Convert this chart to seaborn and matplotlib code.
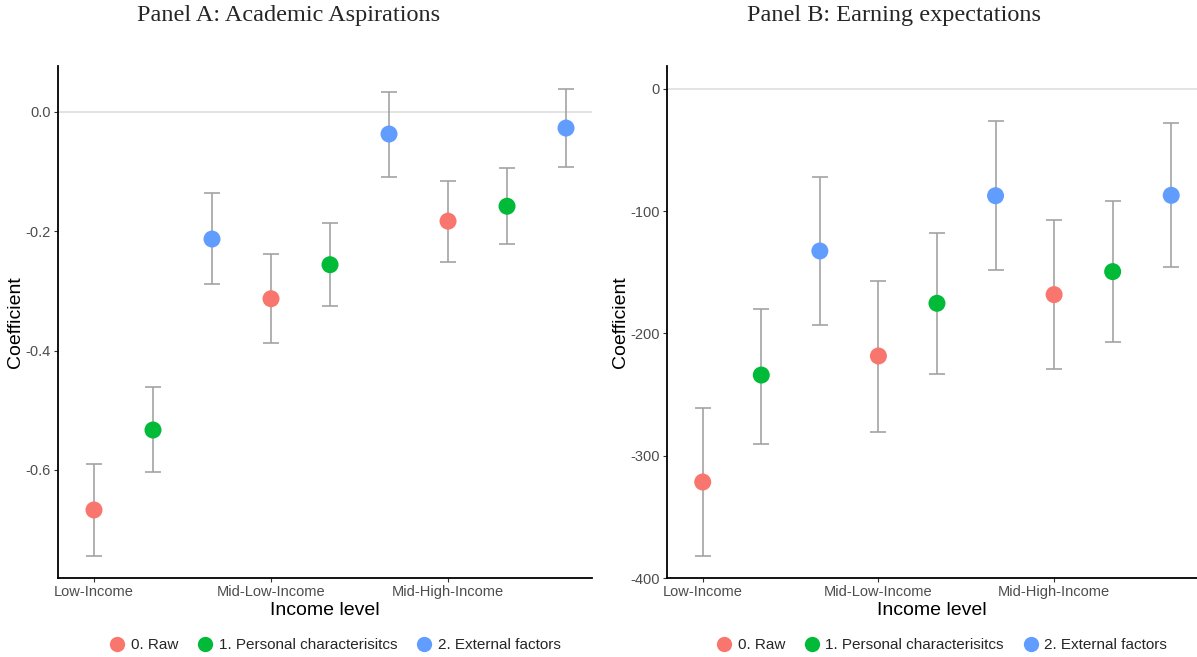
import numpy as np
import pandas as pd
import matplotlib
matplotlib.use("Agg")
import matplotlib.pyplot as plt
from matplotlib.lines import Line2D
import seaborn as sns

# Income groups and model specifications
categories = ["Low-Income", "Mid-Low-Income", "Mid-High-Income"]
models = ["0. Raw", "1. Personal characterisitcs", "2. External factors"]
palette = ["#F8766D", "#00BA38", "#619CFF"]

# Panel A: academic aspirations (ordered income group x model)
acad_coef = [-0.667, -0.533, -0.213, -0.313, -0.256, -0.037, -0.183, -0.158, -0.027]
acad_lo = [-0.744, -0.604, -0.288, -0.387, -0.325, -0.109, -0.251, -0.221, -0.092]
acad_hi = [-0.590, -0.461, -0.136, -0.238, -0.186, 0.034, -0.116, -0.094, 0.039]

# Panel B: earning expectations
earn_coef = [-321.5, -234.0, -132.5, -218.4, -175.3, -87.3, -168.2, -149.4, -87.0]
earn_lo = [-382.0, -290.0, -193.0, -280.6, -233.0, -148.0, -229.0, -207.0, -145.8]
earn_hi = [-261.0, -180.0, -72.0, -157.0, -117.5, -26.4, -107.4, -91.6, -27.8]

acad_ticks = [0.0, -0.2, -0.4, -0.6]
earn_ticks = [0, -100, -200, -300, -400]


def make_frame(coef, lo, hi):
    rows = []
    k = 0
    for g, cat in enumerate(categories):
        for m, mod in enumerate(models):
            rows.append(dict(income=cat, model=mod, pos=g * len(models) + m,
                             coef=coef[k], lo=lo[k], hi=hi[k]))
            k += 1
    return pd.DataFrame(rows)


sns.set_theme(style="white")
plt.rcParams["font.family"] = ["Liberation Sans", "DejaVu Sans"]
plt.rcParams["axes.unicode_minus"] = False

W, H = 1197, 657
fig = plt.figure(figsize=(W / 100, H / 100), dpi=100)


def px_axes(left, top, right, bottom):
    return fig.add_axes([left / W, 1 - bottom / H, (right - left) / W, (bottom - top) / H])


def draw_panel(ax, df, ylim, xlim, yticks, ylabels, title, title_x, legend_x):
    ax.axhline(0, color="#dedede", lw=1.2, zorder=0)
    ax.errorbar(df["pos"], df["coef"],
                yerr=[df["coef"] - df["lo"], df["hi"] - df["coef"]],
                fmt="none", ecolor="#a3a3a3", elinewidth=1.2,
                capsize=5.5, capthick=1.2, zorder=1)
    sns.scatterplot(data=df, x="pos", y="coef", hue="model", hue_order=models,
                    palette=palette, s=150, linewidth=0, ax=ax, zorder=3,
                    legend=False)
    ax.set_xlim(*xlim)
    ax.set_ylim(*ylim)
    ax.set_xticks([g * len(models) for g in range(len(categories))])
    ax.set_xticklabels(categories)
    ax.set_yticks(yticks)
    ax.set_yticklabels(ylabels)
    ax.tick_params(axis="both", which="both", direction="out", length=3,
                   width=0.8, color="#333333", labelsize=10.5,
                   labelcolor="#4d4d4d", pad=2, left=True, bottom=True)
    for side in ("top", "right"):
        ax.spines[side].set_visible(False)
    for side in ("left", "bottom"):
        ax.spines[side].set_color("black")
        ax.spines[side].set_linewidth(1.3)
    ax.set_xlabel("Income level", fontsize=14, color="black", labelpad=2)
    ax.set_ylabel("Coefficient", fontsize=14, color="black", labelpad=1)
    fig.text(title_x / W, 1 - 15 / H, title, ha="center", va="center",
             fontsize=17.5, family=["Liberation Serif", "DejaVu Serif"])
    handles = [Line2D([0], [0], marker="o", linestyle="none", markersize=11,
                      markerfacecolor=c, markeredgewidth=0) for c in palette]
    fig.legend(handles, models, loc="center", ncol=3, frameon=False,
               bbox_to_anchor=(legend_x / W, 1 - 645 / H), fontsize=11,
               handletextpad=0.3, columnspacing=1.15, handlelength=1.2)


axA = px_axes(58, 66, 592, 578)
draw_panel(axA, make_frame(acad_coef, acad_lo, acad_hi),
           ylim=(-0.781, 0.077), xlim=(-0.61, 8.44),
           yticks=acad_ticks, ylabels=["0.0", "-0.2", "-0.4", "-0.6"],
           title="Panel A: Academic Aspirations", title_x=289, legend_x=334.5)

axB = px_axes(667, 66, 1197, 578)
draw_panel(axB, make_frame(earn_coef, earn_lo, earn_hi),
           ylim=(-400, 18.8), xlim=(-0.61, 8.44),
           yticks=earn_ticks, ylabels=["0", "-100", "-200", "-300", "-400"],
           title="Panel B: Earning expectations", title_x=894, legend_x=941)

fig.savefig("out.png", dpi=100)
